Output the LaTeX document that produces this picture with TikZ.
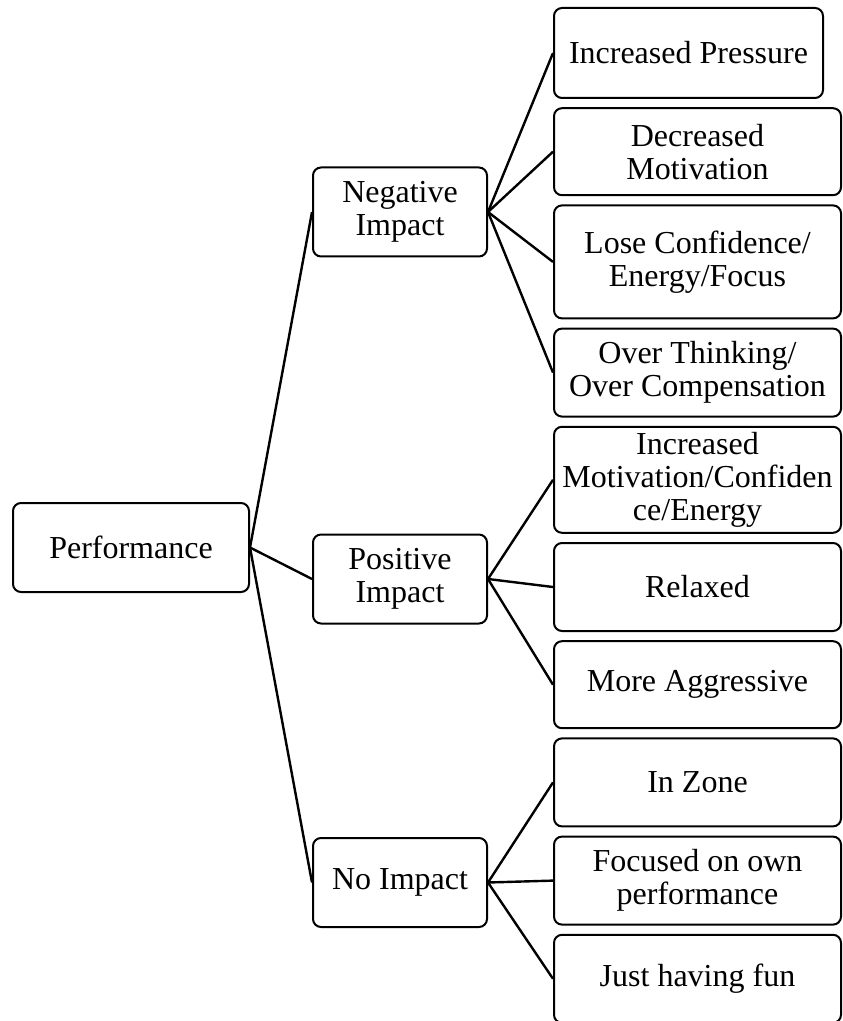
\documentclass[tikz,border=0pt]{standalone}
\usepackage{fontspec}
\setmainfont{Liberation Serif}
\usepackage{tikz}
\usetikzlibrary{positioning}
\tikzset{
  box/.style={rectangle, draw=black, fill=white, align=center,
    font=\fontsize{16}{16.6}\selectfont, rounded corners=4pt,
    line width=1pt, inner sep=2pt},
  rootbox/.style={box, minimum width=118pt, minimum height=44.5pt},
  midbox/.style={box, minimum width=87pt, minimum height=44.5pt},
  leafbox/.style={box, minimum width=143.5pt, minimum height=44pt},
  line/.style={line width=1.2pt, color=black}
}

\begin{document}
\begin{tikzpicture}[x=0.5pt, y=-0.5pt, node distance=4.1pt]
  \useasboundingbox (0,0) rectangle (842,1021);

  % Root Node
  \node[rootbox] (perf) at (131,547.5) {Performance};

  % Impact Nodes
  \node[midbox] (neg) at (400,212) {Negative\\Impact};
  \node[midbox] (pos) at (400,579) {Positive\\Impact};
  \node[midbox] (none) at (400,882.5) {No Impact};

  % Negative Leaves
  \node[leafbox, minimum width=134.5pt, minimum height=45pt, anchor=north west] (press) at (553,7) {Increased Pressure};
  \node[leafbox, minimum height=43.5pt, below=of press.south west, anchor=north west] (demot) {Decreased\\Motivation};
  \node[leafbox, minimum height=56.5pt, below=of demot.south west, anchor=north west] (lose) {Lose Confidence/\\Energy/Focus};
  \node[leafbox, below=of lose.south west, anchor=north west] (over) {Over Thinking/\\Over Compensation};

  % Positive Leaves
  \node[leafbox, minimum height=53pt, below=of over.south west, anchor=north west] (inmot) {Increased\\Motivation/Confiden\\ce/Energy};
  \node[leafbox, below=of inmot.south west, anchor=north west] (relax) {Relaxed};
  \node[leafbox, minimum height=43.5pt, below=of relax.south west, anchor=north west] (aggr) {More Aggressive};

  % No Impact Leaves
  \node[leafbox, below=of aggr.south west, anchor=north west] (zone) {In Zone};
  \node[leafbox, below=of zone.south west, anchor=north west] (focus) {Focused on own\\performance};
  \node[leafbox, below=of focus.south west, anchor=north west] (fun) {Just having fun};

  % Connections
  \draw[line] (perf.east) -- (neg.west);
  \draw[line] (perf.east) -- (pos.west);
  \draw[line] (perf.east) -- (none.west);

  \draw[line] (neg.east) -- (press.west);
  \draw[line] (neg.east) -- (demot.west);
  \draw[line] (neg.east) -- (lose.west);
  \draw[line] (neg.east) -- (over.west);

  \draw[line] (pos.east) -- (inmot.west);
  \draw[line] (pos.east) -- (relax.west);
  \draw[line] (pos.east) -- (aggr.west);

  \draw[line] (none.east) -- (zone.west);
  \draw[line] (none.east) -- (focus.west);
  \draw[line] (none.east) -- (fun.west);

\end{tikzpicture}
\end{document}
